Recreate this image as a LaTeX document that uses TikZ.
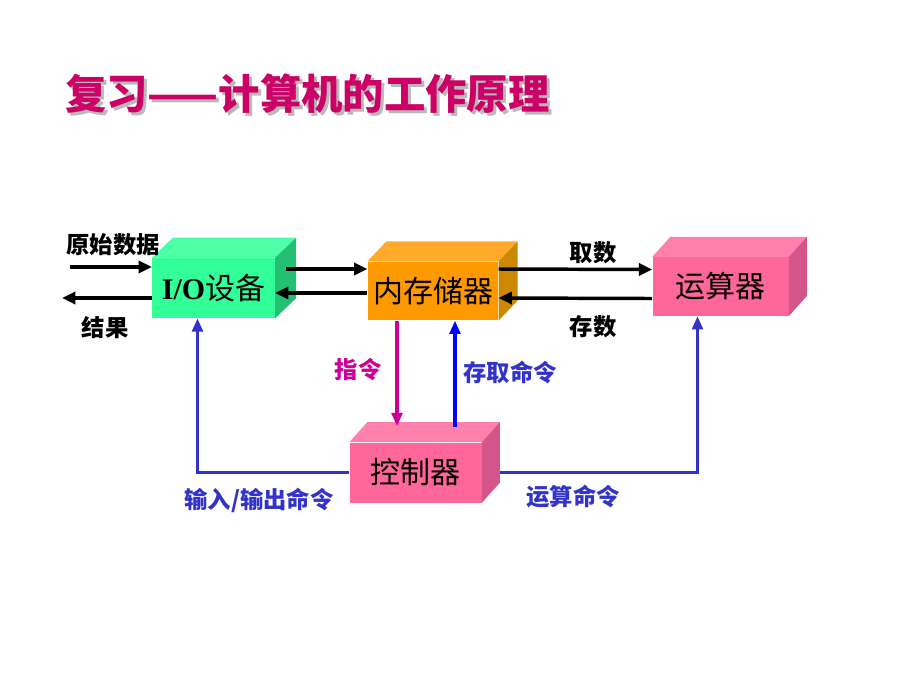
\documentclass[tikz,border=0pt]{standalone}
\usepackage{fontspec}
\setmainfont{Liberation Serif}
\newfontfamily\cjk{Noto Sans CJK SC}
\usetikzlibrary{arrows.meta, calc}

\definecolor{titlered}{HTML}{CC0066}
\definecolor{iofront}{HTML}{33FF99}
\definecolor{iotop}{HTML}{4DFFA6}
\definecolor{ioside}{HTML}{22C070}
\definecolor{memfront}{HTML}{FF9900}
\definecolor{memtop}{HTML}{FFAA2A}
\definecolor{memside}{HTML}{CC8800}
\definecolor{pinkfront}{HTML}{FF6699}
\definecolor{pinktop}{HTML}{FF80AA}
\definecolor{pinkside}{HTML}{D45589}
\definecolor{cmdblue}{HTML}{3333CC}
\definecolor{cmdmagenta}{HTML}{CC0099}

% top and side faces of a box drawn at a front node
\newcommand{\boxfaces}[4]{%
  \fill[#2] (#1.north west) -- ++(#4,-20) -- ($(#1.north east)+(#4,-20)$) -- (#1.north east) -- cycle;
  \fill[#3] (#1.north east) -- ++(#4,-20) -- ($(#1.south east)+(#4,-20)$) -- (#1.south east) -- cycle;
}

\begin{document}
\begin{tikzpicture}[
    x=0.75pt, y=-0.75pt,
    titletext/.style={anchor=west, inner sep=0pt, font=\cjk\bfseries\fontsize{31pt}{36pt}\selectfont},
    unit/.style={inner sep=0pt, minimum height=45pt, font=\cjk\fontsize{22.5pt}{26pt}\selectfont},
    label/.style={inner sep=0pt, font=\cjk\bfseries\fontsize{17.5pt}{20pt}\selectfont},
    dataarrow/.style={line width=2.6pt, -{Triangle[length=10pt,width=9pt]}},
    cmdarrow/.style={line width=2.6pt, -{Triangle[length=10pt,width=8pt]}}
]
\useasboundingbox (0,0) rectangle (920,690);

% Title
\node[titletext, text=gray!55] (titleshadow) at (68,97) {复习——计算机的工作原理};
\node[titletext, text=titlered] (title) at (65,94) {复习——计算机的工作原理};

% Units
\node[unit, fill=iofront, minimum width=92pt] (io) at (213.5,288) {{\rmfamily\bfseries I/O}设备};
\boxfaces{io}{iotop}{ioside}{21}
\node[unit, fill=memfront, minimum width=98pt, minimum height=44pt] (mem) at (433,291) {内存储器};
\boxfaces{mem}{memtop}{memside}{19}
\node[unit, fill=pinkfront, minimum width=102pt, minimum height=44pt] (alu) at (720.5,286.5) {运算器};
\boxfaces{alu}{pinktop}{pinkside}{18}
\node[unit, fill=pinkfront, minimum width=99pt] (ctrl) at (415.5,472.5) {控制器};
\boxfaces{ctrl}{pinktop}{pinkside}{18}

% Data flow
\coordinate (input) at (70,267);
\coordinate (result) at (62,298);
\draw[dataarrow] (input) -- (input -| io.west);
\draw[dataarrow] ($(io.west)+(0,10)$) -- (result);
\draw[dataarrow] ($(io.east)+(11,-19)$) -- ($(mem.west)+(0,-22)$);
\draw[dataarrow] ($(mem.west)+(0,2)$) -- ($(io.east)+(0,5)$);
\draw[dataarrow] ($(mem.east)+(0,-22)$) -- ($(alu.west)+(0,-17)$);
\draw[dataarrow] ($(alu.west)+(0,12)$) -- ($(mem.east)+(0,7)$);

\node[label] (inputlabel) at (113,245) {原始数据};
\node[label] (resultlabel) at (105,328) {结果};
\node[label] (fetchlabel) at (593,253) {取数};
\node[label] (storelabel) at (593,327) {存数};

% Control signals
\draw[cmdarrow, cmdmagenta] ($(mem.south)+(-36,0)$) -- ($(ctrl.north)+(-18.5,-16)$);
\draw[cmdarrow, blue] ($(ctrl.north)+(39.5,-15)$) -- ($(mem.south)+(22,0)$);
\draw[cmdarrow, cmdblue] (ctrl.west) -| ($(io.south)+(-16,0)$);
\draw[cmdarrow, cmdblue] ($(ctrl.east)+(18,0)$) -| ($(alu.south)+(-23,0)$);

\node[label, text=cmdmagenta] (instrlabel) at (358,370) {指令};
\node[label, text=cmdblue] (memcmdlabel) at (510,372) {存取命令};
\node[label, text=cmdblue] (iocmdlabel) at (259,500) {输入/输出命令};
\node[label, text=cmdblue] (alucmdlabel) at (573,497) {运算命令};

\end{tikzpicture}
\end{document}
